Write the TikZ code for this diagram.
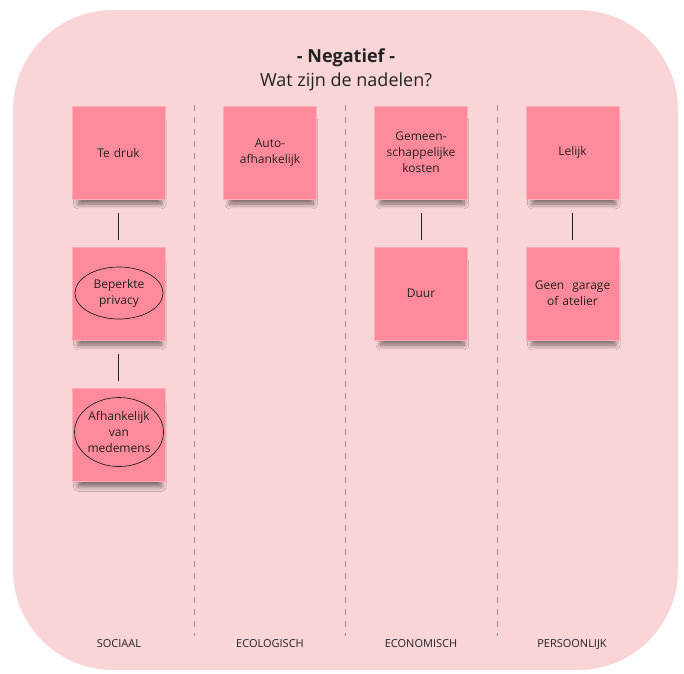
\documentclass[tikz,border=0pt]{standalone}
\usepackage{fontspec}
\setmainfont{Open Sans}
\usetikzlibrary{positioning,shapes.geometric,shadows.blur}

\definecolor{boardpink}{HTML}{F9D5D7}
\definecolor{notepink}{HTML}{FF8A9B}
\definecolor{inkgray}{HTML}{222222}

\tikzset{
	note/.style={fill=notepink, draw=notepink!70!white, line width=0.4pt,
		minimum width=93pt, minimum height=93pt, inner sep=0pt,
		text width=86pt, align=center, text=inkgray, font=\fontsize{12}{16}\selectfont,
		blur shadow={shadow xshift=1.5pt, shadow yshift=-11pt, shadow scale=0.9,
			shadow blur radius=5pt, shadow blur steps=12, shadow opacity=50}},
	bubble/.style={ellipse, draw=inkgray, line width=0.7pt, inner sep=0pt,
		align=center, text=inkgray, font=\fontsize{12}{16}\selectfont},
	link/.style={draw=inkgray, line width=0.7pt, shorten <=14pt, shorten >=7pt},
	divider/.style={draw=gray!85, line width=0.9pt, dash pattern=on 6pt off 6pt},
	column/.style={anchor=base, text=inkgray, font=\fontsize{11}{12}\selectfont}
}

\begin{document}
\begin{tikzpicture}[x=1pt, y=-1pt]
		%%%%% BOARD %%%%%
		\useasboundingbox (0,0) rectangle (684,673);
		\fill[boardpink, rounded corners=100pt] (13,10) rectangle (678,670);
		
		\node[anchor=base, text=inkgray, font=\fontsize{18}{22}\selectfont\bfseries] (title) at (346,62) {- Negatief -};
		\node[anchor=base, text=inkgray, font=\fontsize{18}{22}\selectfont] (question) at (346,86) {Wat zijn de nadelen?};
		
		\foreach \x in {194,345,497}
			\draw[divider] (\x,105) -- (\x,636);
		
		%%%%% NOTES %%%%%
		\node[note] (te-druk) at (118.5,152.5) {Te druk};
		\node[note] (beperkte) at (118.5,293.5) {};
		\node[note] (afhankelijk) at (118.5,435) {};
		
		\node[note] (auto) at (270,152.5) {Auto-\\afhankelijk\\[6pt]};
		
		\node[note] (gemeen) at (421,152.5) {Gemeen-\\schappelijke\\kosten};
		\node[note] (duur) at (421,293.5) {Duur};
		
		\node[note] (lelijk) at (572.5,152.5) {Lelijk};
		\node[note] (garage) at (572.5,293.5) {Geen~ garage\\of atelier};
		
		\node[bubble, minimum width=88pt, minimum height=52pt] (beperkte-ring) at (119,293) {Beperkte\\privacy};
		\node[bubble, minimum width=88pt, minimum height=69pt] (afhankelijk-ring) at (119,432) {Afhankelijk\\van\\medemens};
		
		\draw[link] (te-druk) -- (beperkte);
		\draw[link] (beperkte) -- (afhankelijk);
		\draw[link] (gemeen) -- (duur);
		\draw[link] (lelijk) -- (garage);
		
		%%%%% COLUMNS %%%%%
		\node[column] (sociaal) at (119,647) {SOCIAAL};
		\node[column] (ecologisch) at (270,647) {ECOLOGISCH};
		\node[column] (economisch) at (421,647) {ECONOMISCH};
		\node[column] (persoonlijk) at (572,647) {PERSOONLIJK};
	\end{tikzpicture}
\end{document}
